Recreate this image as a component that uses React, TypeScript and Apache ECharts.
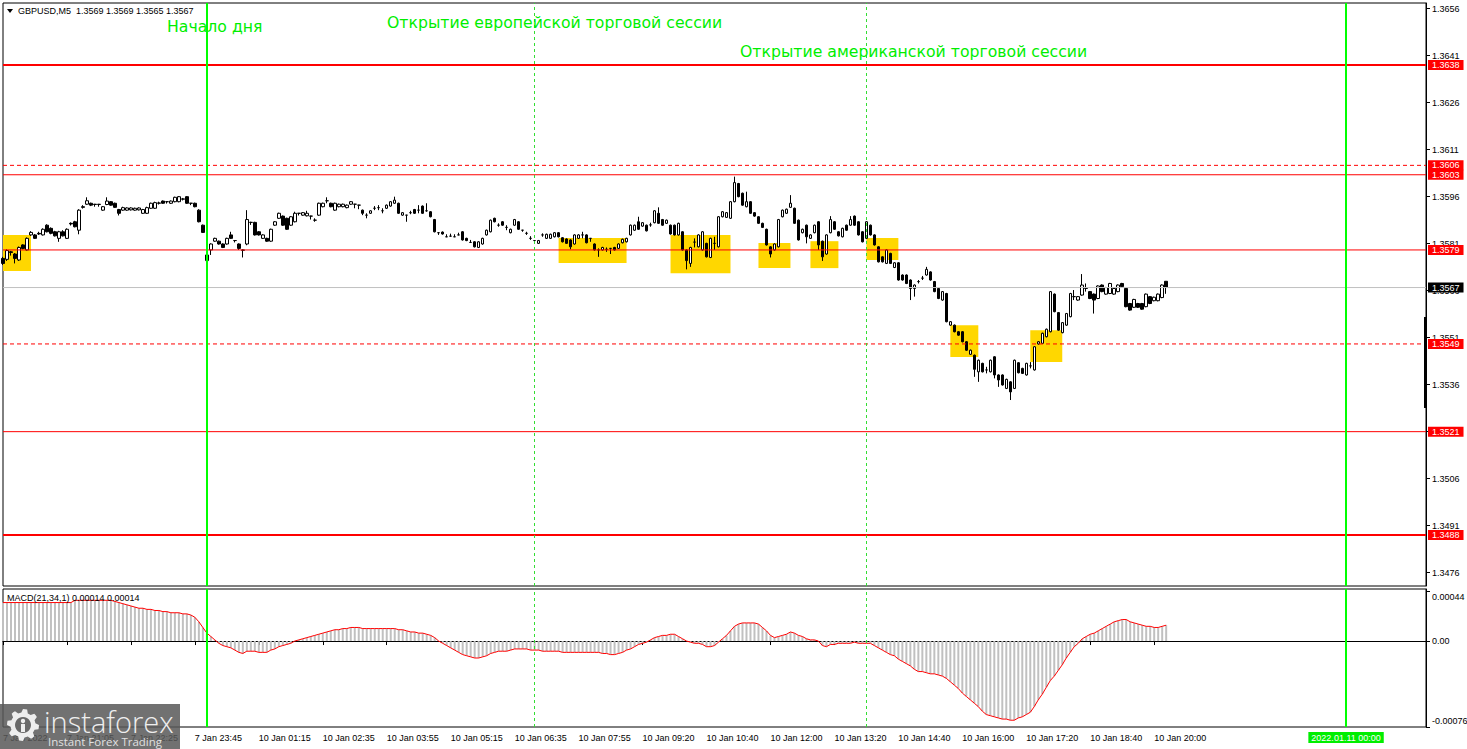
import React, { useEffect, useRef } from "react";
import * as echarts from "echarts";

// ---------- DATA ----------
// Candles [open, close, low, high], GBPUSD M5
const candlesFriday = [
  [1.35763,1.35747,1.35742,1.35768],[1.35760,1.35788,1.35755,1.35792],[1.35784,1.35782,1.35772,1.35787],[1.35777,1.35763,1.35747,1.35780],
  [1.35758,1.35798,1.35755,1.35801],[1.35806,1.35795,1.35792,1.35808],[1.35790,1.35827,1.35788,1.35830],[1.35838,1.35846,1.35835,1.35850],
  [1.35838,1.35827,1.35825,1.35841],[1.35843,1.35841,1.35838,1.35848],[1.35838,1.35856,1.35836,1.35859],[1.35869,1.35848,1.35846,1.35872],
  [1.35859,1.35843,1.35840,1.35862],[1.35848,1.35835,1.35833,1.35851],[1.35827,1.35848,1.35816,1.35851],[1.35848,1.35835,1.35833,1.35853],
  [1.35827,1.35856,1.35825,1.35859],[1.35875,1.35873,1.35868,1.35878],[1.35880,1.35864,1.35862,1.35883],[1.35853,1.35917,1.35840,1.35920],
  [1.35928,1.35926,1.35922,1.35933],[1.35936,1.35947,1.35934,1.35958],[1.35939,1.35933,1.35930,1.35941],[1.35936,1.35935,1.35928,1.35937],
  [1.35935,1.35936,1.35928,1.35937],[1.35917,1.35928,1.35915,1.35930],[1.35935,1.35946,1.35933,1.35958],[1.35944,1.35933,1.35931,1.35946],
  [1.35939,1.35926,1.35924,1.35941],[1.35919,1.35907,1.35900,1.35921],[1.35917,1.35925,1.35915,1.35928],[1.35917,1.35924,1.35915,1.35926],
  [1.35918,1.35924,1.35916,1.35926],[1.35917,1.35923,1.35915,1.35925],[1.35918,1.35924,1.35916,1.35926],[1.35907,1.35919,1.35905,1.35921],
  [1.35907,1.35925,1.35905,1.35928],[1.35923,1.35939,1.35921,1.35941],[1.35923,1.35941,1.35921,1.35944],[1.35939,1.35940,1.35935,1.35944],
  [1.35946,1.35939,1.35937,1.35948],[1.35944,1.35944,1.35938,1.35945],[1.35939,1.35946,1.35937,1.35948],[1.35944,1.35958,1.35942,1.35960],
  [1.35944,1.35960,1.35942,1.35962],[1.35952,1.35953,1.35948,1.35956],[1.35960,1.35939,1.35937,1.35962],[1.35939,1.35939,1.35933,1.35940],
  [1.35939,1.35928,1.35926,1.35941],[1.35917,1.35880,1.35878,1.35920],[1.35869,1.35846,1.35844,1.35871],
];
const candlesAsia = [
  [1.35756,1.35774,1.35745,1.35776],[1.35790,1.35809,1.35774,1.35811],[1.35818,1.35827,1.35816,1.35829],[1.35818,1.35809,1.35807,1.35820],
  [1.35809,1.35798,1.35796,1.35811],[1.35809,1.35827,1.35807,1.35829],[1.35838,1.35827,1.35825,1.35848],[1.35820,1.35820,1.35814,1.35821],
  [1.35809,1.35795,1.35790,1.35811],[1.35790,1.35789,1.35766,1.35792],[1.35809,1.35887,1.35805,1.35917],[1.35878,1.35878,1.35870,1.35880],
  [1.35878,1.35838,1.35836,1.35880],[1.35848,1.35838,1.35836,1.35850],[1.35827,1.35838,1.35825,1.35840],[1.35827,1.35818,1.35816,1.35829],
  [1.35818,1.35856,1.35816,1.35858],[1.35869,1.35880,1.35867,1.35882],[1.35891,1.35907,1.35889,1.35909],[1.35898,1.35869,1.35867,1.35900],
  [1.35891,1.35856,1.35854,1.35893],[1.35869,1.35896,1.35867,1.35898],[1.35880,1.35907,1.35878,1.35912],[1.35907,1.35907,1.35900,1.35908],
  [1.35901,1.35909,1.35899,1.35911],[1.35899,1.35907,1.35897,1.35915],[1.35898,1.35898,1.35887,1.35899],[1.35885,1.35885,1.35880,1.35891],
  [1.35901,1.35939,1.35899,1.35941],[1.35928,1.35939,1.35926,1.35941],[1.35947,1.35947,1.35939,1.35958],[1.35939,1.35928,1.35926,1.35941],
  [1.35917,1.35939,1.35915,1.35941],[1.35928,1.35936,1.35926,1.35938],[1.35928,1.35936,1.35926,1.35938],[1.35925,1.35933,1.35923,1.35935],
  [1.35936,1.35944,1.35934,1.35946],[1.35936,1.35936,1.35923,1.35937],[1.35933,1.35933,1.35920,1.35934],[1.35917,1.35907,1.35901,1.35919],
  [1.35901,1.35901,1.35891,1.35907],[1.35907,1.35915,1.35905,1.35917],[1.35923,1.35923,1.35917,1.35930],[1.35925,1.35925,1.35917,1.35933],
  [1.35915,1.35915,1.35907,1.35923],[1.35923,1.35933,1.35921,1.35935],[1.35930,1.35944,1.35928,1.35946],[1.35939,1.35949,1.35937,1.35960],
  [1.35939,1.35907,1.35905,1.35941],[1.35901,1.35909,1.35899,1.35911],[1.35901,1.35901,1.35880,1.35902],[1.35909,1.35909,1.35904,1.35915],
  [1.35919,1.35907,1.35905,1.35921],[1.35917,1.35917,1.35907,1.35933],[1.35930,1.35907,1.35905,1.35932],[1.35915,1.35915,1.35912,1.35939],
  [1.35912,1.35896,1.35894,1.35914],[1.35887,1.35848,1.35846,1.35889],[1.35845,1.35845,1.35838,1.35846],[1.35847,1.35841,1.35839,1.35849],
];
const candlesEurope = [
  [1.35832,1.35832,1.35831,1.35840],[1.35834,1.35834,1.35833,1.35842],[1.35832,1.35832,1.35831,1.35840],[1.35838,1.35838,1.35837,1.35845],
  [1.35848,1.35822,1.35820,1.35850],[1.35827,1.35820,1.35818,1.35829],[1.35814,1.35814,1.35813,1.35822],[1.35816,1.35800,1.35798,1.35818],
  [1.35798,1.35816,1.35796,1.35818],[1.35809,1.35827,1.35807,1.35829],[1.35838,1.35853,1.35836,1.35855],[1.35848,1.35885,1.35846,1.35887],
  [1.35891,1.35880,1.35878,1.35893],[1.35869,1.35869,1.35864,1.35875],[1.35880,1.35869,1.35867,1.35882],[1.35862,1.35862,1.35853,1.35869],
  [1.35845,1.35856,1.35843,1.35858],[1.35869,1.35887,1.35867,1.35889],[1.35880,1.35856,1.35854,1.35882],[1.35853,1.35853,1.35848,1.35854],
  [1.35843,1.35843,1.35838,1.35848],[1.35827,1.35827,1.35822,1.35834],[1.35820,1.35820,1.35812,1.35821],[1.35811,1.35820,1.35809,1.35822],
  [1.35838,1.35838,1.35832,1.35843],[1.35827,1.35840,1.35825,1.35842],[1.35827,1.35840,1.35825,1.35842],[1.35832,1.35845,1.35830,1.35847],
  [1.35845,1.35832,1.35830,1.35847],[1.35829,1.35816,1.35814,1.35831],[1.35825,1.35811,1.35809,1.35827],[1.35822,1.35800,1.35792,1.35824],
  [1.35809,1.35838,1.35807,1.35840],[1.35827,1.35838,1.35825,1.35840],[1.35838,1.35838,1.35827,1.35848],[1.35838,1.35813,1.35811,1.35840],
  [1.35827,1.35827,1.35816,1.35828],[1.35809,1.35790,1.35788,1.35811],[1.35790,1.35790,1.35768,1.35795],[1.35790,1.35798,1.35788,1.35800],
  [1.35792,1.35792,1.35784,1.35798],[1.35795,1.35795,1.35777,1.35796],[1.35798,1.35790,1.35788,1.35800],[1.35795,1.35809,1.35793,1.35811],
  [1.35813,1.35824,1.35811,1.35826],[1.35816,1.35827,1.35814,1.35829],[1.35838,1.35869,1.35836,1.35871],[1.35853,1.35869,1.35851,1.35871],
  [1.35880,1.35856,1.35854,1.35896],[1.35866,1.35877,1.35864,1.35879],[1.35869,1.35851,1.35849,1.35871],[1.35870,1.35870,1.35864,1.35877],
  [1.35877,1.35915,1.35875,1.35917],[1.35907,1.35875,1.35873,1.35926],[1.35887,1.35869,1.35867,1.35889],[1.35875,1.35885,1.35873,1.35887],
  [1.35869,1.35841,1.35839,1.35871],[1.35869,1.35838,1.35836,1.35871],[1.35838,1.35875,1.35836,1.35877],[1.35848,1.35790,1.35788,1.35850],
];
const candlesMidday = [
  [1.35790,1.35756,1.35728,1.35792],[1.35747,1.35798,1.35736,1.35800],[1.35815,1.35815,1.35798,1.35827],[1.35800,1.35838,1.35798,1.35840],
  [1.35790,1.35848,1.35788,1.35850],[1.35811,1.35768,1.35766,1.35813],[1.35766,1.35827,1.35764,1.35829],[1.35811,1.35811,1.35790,1.35832],
  [1.35800,1.35896,1.35798,1.35898],[1.35896,1.35912,1.35894,1.35914],[1.35894,1.35909,1.35892,1.35911],[1.35891,1.35944,1.35889,1.35946],
  [1.35944,1.36005,1.35942,1.36024],[1.36002,1.35960,1.35958,1.36004],[1.35971,1.35933,1.35931,1.35973],[1.35928,1.35944,1.35926,1.35976],
  [1.35944,1.35907,1.35905,1.35946],[1.35909,1.35898,1.35896,1.35911],[1.35896,1.35875,1.35873,1.35898],[1.35875,1.35862,1.35860,1.35877],
  [1.35856,1.35806,1.35804,1.35858],[1.35800,1.35777,1.35766,1.35802],[1.35790,1.35809,1.35788,1.35811],[1.35800,1.35887,1.35798,1.35889],
  [1.35896,1.35917,1.35894,1.35919],[1.35907,1.35920,1.35905,1.35922],[1.35926,1.35939,1.35924,1.35965],[1.35923,1.35875,1.35873,1.35925],
  [1.35885,1.35822,1.35820,1.35887],[1.35845,1.35856,1.35843,1.35858],[1.35869,1.35832,1.35811,1.35871],[1.35827,1.35838,1.35825,1.35840],
  [1.35845,1.35869,1.35843,1.35871],[1.35880,1.35806,1.35790,1.35882],[1.35818,1.35768,1.35755,1.35820],[1.35777,1.35838,1.35775,1.35840],
  [1.35845,1.35887,1.35843,1.35898],[1.35880,1.35856,1.35854,1.35882],[1.35848,1.35835,1.35833,1.35850],[1.35832,1.35859,1.35830,1.35861],
  [1.35869,1.35853,1.35851,1.35871],[1.35869,1.35887,1.35867,1.35898],[1.35898,1.35869,1.35867,1.35900],[1.35880,1.35838,1.35836,1.35882],
  [1.35848,1.35816,1.35814,1.35850],[1.35827,1.35880,1.35825,1.35882],[1.35869,1.35838,1.35836,1.35871],[1.35838,1.35806,1.35804,1.35840],
  [1.35800,1.35752,1.35750,1.35802],[1.35768,1.35752,1.35750,1.35770],[1.35747,1.35790,1.35745,1.35792],[1.35779,1.35747,1.35745,1.35781],
  [1.35734,1.35749,1.35732,1.35751],[1.35749,1.35694,1.35692,1.35751],[1.35710,1.35694,1.35692,1.35712],[1.35710,1.35683,1.35681,1.35712],
  [1.35694,1.35667,1.35630,1.35696],[1.35667,1.35678,1.35641,1.35680],[1.35689,1.35689,1.35683,1.35694],[1.35700,1.35700,1.35694,1.35707],
];
const candlesAmerica = [
  [1.35710,1.35728,1.35708,1.35736],[1.35720,1.35694,1.35692,1.35722],[1.35689,1.35657,1.35655,1.35691],[1.35667,1.35635,1.35633,1.35669],
  [1.35630,1.35657,1.35628,1.35659],[1.35651,1.35561,1.35559,1.35653],[1.35550,1.35561,1.35548,1.35563],[1.35550,1.35529,1.35527,1.35552],
  [1.35529,1.35518,1.35516,1.35531],[1.35529,1.35497,1.35495,1.35531],[1.35497,1.35470,1.35468,1.35499],[1.35457,1.35470,1.35455,1.35472],
  [1.35454,1.35409,1.35385,1.35456],[1.35401,1.35438,1.35369,1.35440],[1.35428,1.35401,1.35399,1.35430],[1.35407,1.35407,1.35396,1.35417],
  [1.35401,1.35438,1.35399,1.35440],[1.35449,1.35391,1.35380,1.35451],[1.35391,1.35375,1.35353,1.35393],[1.35391,1.35359,1.35357,1.35393],
  [1.35348,1.35377,1.35346,1.35379],[1.35369,1.35337,1.35311,1.35371],[1.35348,1.35438,1.35346,1.35440],[1.35430,1.35398,1.35396,1.35432],
  [1.35412,1.35396,1.35394,1.35414],[1.35391,1.35428,1.35389,1.35430],[1.35420,1.35420,1.35412,1.35432],[1.35407,1.35481,1.35405,1.35483],
  [1.35490,1.35497,1.35488,1.35499],[1.35492,1.35524,1.35490,1.35526],[1.35513,1.35537,1.35511,1.35539],[1.35529,1.35657,1.35527,1.35659],
  [1.35649,1.35593,1.35591,1.35651],[1.35590,1.35534,1.35532,1.35592],[1.35526,1.35558,1.35524,1.35560],[1.35550,1.35587,1.35548,1.35589],
  [1.35577,1.35651,1.35575,1.35653],[1.35641,1.35641,1.35630,1.35662],[1.35630,1.35641,1.35628,1.35643],[1.35646,1.35678,1.35644,1.35713],
  [1.35667,1.35667,1.35657,1.35683],[1.35657,1.35635,1.35633,1.35659],[1.35649,1.35630,1.35587,1.35651],[1.35635,1.35675,1.35633,1.35677],
  [1.35678,1.35657,1.35655,1.35680],[1.35649,1.35670,1.35647,1.35672],[1.35651,1.35683,1.35649,1.35685],[1.35649,1.35667,1.35647,1.35669],
  [1.35657,1.35678,1.35655,1.35680],[1.35683,1.35673,1.35671,1.35685],[1.35667,1.35609,1.35607,1.35669],[1.35619,1.35598,1.35596,1.35621],
  [1.35607,1.35632,1.35605,1.35634],[1.35619,1.35607,1.35605,1.35621],[1.35619,1.35601,1.35599,1.35621],[1.35609,1.35649,1.35607,1.35651],
  [1.35641,1.35619,1.35617,1.35643],[1.35628,1.35639,1.35626,1.35641],[1.35628,1.35649,1.35626,1.35651],[1.35638,1.35678,1.35636,1.35680],
  [1.3569,1.3567,1.3565,1.3569],
];

// MACD(21,34,1) histogram (main) values per bar
const macdMain = [
  34e-5,34e-5,34e-5,34e-5,34e-5,34e-5,34e-5,34e-5,34e-5,34e-5,
  34e-5,34e-5,34e-5,34e-5,34e-5,34e-5,34e-5,34e-5,36e-5,36e-5,
  36e-5,36e-5,36e-5,36e-5,36e-5,36e-5,36e-5,36e-5,35e-5,34e-5,
  33e-5,32e-5,31e-5,30e-5,29e-5,29e-5,28e-5,28e-5,27e-5,27e-5,
  26e-5,26e-5,25e-5,25e-5,25e-5,24e-5,24e-5,23e-5,21e-5,17e-5,
  12e-5,7e-5,4e-5,1e-5,-2e-5,-4e-5,-5e-5,-6e-5,-8e-5,-10e-5,
  -11e-5,-9e-5,-9e-5,-9e-5,-10e-5,-10e-5,-10e-5,-8e-5,-7e-5,-5e-5,
  -4e-5,-3e-5,-2e-5,0,1e-5,2e-5,3e-5,4e-5,5e-5,6e-5,
  7e-5,8e-5,9e-5,10e-5,10e-5,11e-5,11e-5,12e-5,12e-5,12e-5,
  11e-5,11e-5,11e-5,11e-5,11e-5,11e-5,11e-5,11e-5,11e-5,10e-5,
  10e-5,9e-5,8e-5,8e-5,7e-5,7e-5,6e-5,5e-5,3e-5,0,
  -2e-5,-4e-5,-6e-5,-8e-5,-10e-5,-12e-5,-13e-5,-14e-5,-15e-5,-15e-5,
  -14e-5,-13e-5,-11e-5,-10e-5,-9e-5,-9e-5,-9e-5,-8e-5,-7e-5,-7e-5,
  -7e-5,-7e-5,-8e-5,-8e-5,-8e-5,-9e-5,-9e-5,-9e-5,-9e-5,-9e-5,
  -10e-5,-10e-5,-10e-5,-10e-5,-10e-5,-10e-5,-10e-5,-10e-5,-10e-5,-10e-5,
  -11e-5,-11e-5,-12e-5,-12e-5,-11e-5,-10e-5,-8e-5,-7e-5,-5e-5,-3e-5,
  -2e-5,-1e-5,1e-5,3e-5,4e-5,5e-5,5e-5,6e-5,6e-5,4e-5,
  2e-5,0,-1e-5,-2e-5,-2e-5,-3e-5,-5e-5,-5e-5,-4e-5,-1e-5,
  2e-5,5e-5,9e-5,13e-5,15e-5,16e-5,16e-5,16e-5,16e-5,15e-5,
  12e-5,9e-5,5e-5,3e-5,4e-5,5e-5,6e-5,8e-5,7e-5,5e-5,
  4e-5,2e-5,1e-5,1e-5,0,-4e-5,-5e-5,-3e-5,-3e-5,-2e-5,
  -2e-5,-2e-5,-2e-5,-1e-5,-2e-5,-2e-5,-2e-5,-2e-5,-4e-5,-6e-5,
  -8e-5,-10e-5,-12e-5,-13e-5,-16e-5,-18e-5,-20e-5,-22e-5,-25e-5,-27e-5,
  -27e-5,-28e-5,-29e-5,-29e-5,-30e-5,-31e-5,-33e-5,-36e-5,-39e-5,-42e-5,
  -46e-5,-49e-5,-52e-5,-55e-5,-58e-5,-62e-5,-65e-5,-66e-5,-67e-5,-68e-5,
  -69e-5,-69e-5,-70e-5,-70e-5,-68e-5,-67e-5,-65e-5,-63e-5,-58e-5,-52e-5,
  -47e-5,-41e-5,-35e-5,-31e-5,-26e-5,-21e-5,-15e-5,-10e-5,-5e-5,-2e-5,
  2e-5,4e-5,6e-5,7e-5,9e-5,11e-5,13e-5,15e-5,17e-5,18e-5,
  19e-5,19e-5,17e-5,16e-5,15e-5,14e-5,13e-5,13e-5,12e-5,12e-5,
  13e-5,14e-5,
];

// Price axis labels and MACD axis labels
const priceTicks = [1.3656, 1.3641, 1.3626, 1.3611, 1.3596, 1.3581, 1.3566, 1.3551, 1.3536, 1.3521, 1.3506, 1.3491, 1.3476];
const macdTicks = [0.00044, 0, -0.00076];

// Horizontal levels
const solidLevels = [1.3638, 1.3603, 1.3579, 1.3521, 1.3488];
const thickLevels = [1.3638, 1.3488];
const dashedLevels = [1.3606, 1.3549];
const currentPrice = 1.3567;

// Time axis
const firstBar = "2022.01.07 19:45";
const fridayLastBar = "2022.01.07 23:55";
const mondayFirstBar = "2022.01.10 00:00";
const missingBars = ["2022.01.10 00:05", "2022.01.10 00:10", "2022.01.10 08:40"];
const slotCount = 357;
const labelEvery = 16;

// Vertical lines (times)
const dayStart = "2022.01.10 00:00";
const euOpen = "2022.01.10 07:00";
const usOpen = "2022.01.10 14:00";
const nextDay = "2022.01.11 00:00";

// Yellow boxes: bar index range and price range
const boxes = [
  { from: 0, to: 7, high: 1.35838, low: 1.35723 },
  { from: 139, to: 156, high: 1.35828, low: 1.35748 },
  { from: 167, to: 182, high: 1.35838, low: 1.35716 },
  { from: 189, to: 197, high: 1.35812, low: 1.35732 },
  { from: 202, to: 209, high: 1.35818, low: 1.35732 },
  { from: 216, to: 224, high: 1.35828, low: 1.35758 },
  { from: 237, to: 244, high: 1.35550, low: 1.35448 },
  { from: 257, to: 265, high: 1.35534, low: 1.35432 },
];

const annotations = [
  { text: "Начало дня", x: 167, y: 26 },
  { text: "Открытие европейской торговой сессии", x: 387, y: 22 },
  { text: "Открытие американской торговой сессии", x: 740, y: 51 },
];

// ---------- HELPERS ----------
const pad = (n: number) => (n < 10 ? "0" + n : "" + n);
const fmtTime = (t: number) => {
  const d = new Date(t);
  return `${d.getUTCFullYear()}.${pad(d.getUTCMonth() + 1)}.${pad(d.getUTCDate())} ${pad(d.getUTCHours())}:${pad(d.getUTCMinutes())}`;
};
const parseTime = (s: string) => {
  const [date, time] = s.split(" ");
  const [y, mo, d] = date.split(".").map(Number);
  const [h, mi] = time.split(":").map(Number);
  return Date.UTC(y, mo - 1, d, h, mi);
};
function buildSlots(): string[] {
  const out: string[] = [];
  let t = parseTime(firstBar);
  while (out.length < slotCount) {
    const s = fmtTime(t);
    if (!missingBars.includes(s)) out.push(s);
    t = s === fridayLastBar ? parseTime(mondayFirstBar) : t + 5 * 60000;
  }
  return out;
}
const MONTHS = ["Jan", "Feb", "Mar", "Apr", "May", "Jun", "Jul", "Aug", "Sep", "Oct", "Nov", "Dec"];

export default function App() {
  const ref = useRef<HTMLDivElement>(null);
  useEffect(() => {
    document.body.style.margin = "0";
    if (!ref.current) return;
    const chart = echarts.init(ref.current, null, { renderer: "svg" });
    const candles = [...candlesFriday, ...candlesAsia, ...candlesEurope, ...candlesMidday, ...candlesAmerica];
    const slots = buildSlots();
    const lastIdx = candles.length - 1;
    const lastSlot = slots.length - 1;
    const last = candles[lastIdx];
    const showLabel = (i: number) => i % labelEvery === 0 && i <= lastIdx;
    const FONT = "Liberation Sans";
    const ANN = "DejaVu Sans";
    const f4 = (v: number) => Number(v).toFixed(4);

    const levelSeries = (v: number, color: string, width: number, type: any, labelBg: string) => ({
      type: "line",
      xAxisIndex: 0,
      yAxisIndex: 0,
      data: [[0, v], [lastSlot, v]],
      symbol: "none",
      silent: true,
      z: 3,
      lineStyle: { color, width, type },
      endLabel: {
        show: true,
        formatter: () => f4(v),
        distance: 2,
        backgroundColor: labelBg,
        color: "#fff",
        fontFamily: FONT,
        fontSize: 9,
        lineHeight: 10,
        padding: [0, 4, 0, 4],
      },
    });

    const vLines = (withLabel: boolean): any[] => [
      { xAxis: dayStart, lineStyle: { color: "#00ff00", width: 2, type: "solid" }, label: { show: false } },
      { xAxis: euOpen, lineStyle: { color: "#33dd33", width: 1, type: [3, 3] }, label: { show: false } },
      { xAxis: usOpen, lineStyle: { color: "#33dd33", width: 1, type: [3, 3] }, label: { show: false } },
      {
        xAxis: nextDay,
        lineStyle: { color: "#00ff00", width: 2, type: "solid" },
        label: withLabel
          ? {
              show: true,
              position: "start",
              distance: 5,
              formatter: nextDay,
              backgroundColor: "#00ee00",
              color: "#fff",
              fontFamily: FONT,
              fontSize: 9,
              lineHeight: 11,
              padding: [0, 3, 0, 3],
            }
          : { show: false },
      },
    ];

    // gear polygon for logo
    const gear: number[][] = [];
    const gcx = 23, gcy = 725;
    for (let k = 0; k < 48; k++) {
      const a = (k / 48) * Math.PI * 2;
      const tooth = Math.floor(k / 3) % 2 === 0;
      const r = tooth ? 16 : 12.5;
      gear.push([gcx + r * Math.cos(a), gcy + r * Math.sin(a)]);
    }

    const textStyleBase = { fontFamily: FONT, fontSize: 9, fill: "#000", verticalAlign: "middle" };

    const option: any = {
      animation: false,
      backgroundColor: "#ffffff",
      grid: [
        { left: 3, right: 41, top: 3, height: 583, show: true, borderColor: "#000", borderWidth: 1, backgroundColor: "transparent", outerBoundsMode: "none", containLabel: false },
        { left: 3, right: 41, top: 589, height: 138, show: true, borderColor: "#000", borderWidth: 1, backgroundColor: "transparent", outerBoundsMode: "none", containLabel: false },
      ],
      xAxis: [
        {
          type: "category", gridIndex: 0, data: slots, boundaryGap: false,
          axisLine: { show: false }, axisTick: { show: false }, axisLabel: { show: false }, splitLine: { show: false },
        },
        {
          type: "category", gridIndex: 1, data: slots, boundaryGap: false,
          axisLine: { show: true, lineStyle: { color: "#000", width: 1 } },
          axisTick: { show: true, interval: (i: number) => showLabel(i), length: 4, lineStyle: { color: "#000" } },
          axisLabel: {
            interval: (i: number) => showLabel(i),
            align: "left",
            margin: 6,
            fontFamily: FONT,
            fontSize: 9,
            color: "#000",
            formatter: (v: string, i: number) => {
              const t = new Date(parseTime(v));
              if (i === 0) return `${t.getUTCDate()} ${MONTHS[t.getUTCMonth()]} ${t.getUTCFullYear()}`;
              return `${t.getUTCDate()} ${MONTHS[t.getUTCMonth()]} ${pad(t.getUTCHours())}:${pad(t.getUTCMinutes())}`;
            },
          },
          splitLine: { show: false },
        },
      ],
      yAxis: [
        {
          type: "value", gridIndex: 0, position: "right",
          min: 1.347174, max: 1.365782,
          splitLine: { show: false },
          axisLine: { show: true, lineStyle: { color: "#000" } },
          axisTick: { show: true, customValues: priceTicks, length: 4, lineStyle: { color: "#000" } },
          axisLabel: { customValues: priceTicks, formatter: (v: number) => f4(v), margin: 6, fontFamily: FONT, fontSize: 9, color: "#000" },
        },
        {
          type: "value", gridIndex: 1, position: "right",
          min: -0.00076, max: 0.00046,
          splitLine: { show: false },
          axisLine: { show: true, lineStyle: { color: "#000" } },
          axisTick: { show: true, customValues: macdTicks, length: 4, lineStyle: { color: "#000" } },
          axisLabel: {
            customValues: macdTicks, margin: 6, fontFamily: FONT, fontSize: 9, color: "#000",
            formatter: (v: number) => {
              if (v > 0) return `{top|${v.toFixed(5)}}`;
              if (v < 0) return `{bot|${v.toFixed(5)}}`;
              return "0.00";
            },
            rich: {
              top: { fontFamily: FONT, fontSize: 9, color: "#000", padding: [12, 0, 0, 0] },
              bot: { fontFamily: FONT, fontSize: 9, color: "#000", padding: [0, 0, 12, 0] },
            },
          },
        },
      ],
      series: [
        {
          name: "boxes", type: "line", xAxisIndex: 0, yAxisIndex: 0, data: [], z: 1, silent: true,
          markArea: {
            silent: true,
            itemStyle: { color: "#ffd700", opacity: 1 },
            label: { show: false },
            data: boxes.map((b) => [{ xAxis: b.from, yAxis: b.high }, { xAxis: b.to, yAxis: b.low }]),
          },
        },
        {
          name: "GBPUSD", type: "candlestick", xAxisIndex: 0, yAxisIndex: 0, data: candles, z: 2,
          barWidth: 3,
          itemStyle: { color: "#ffffff", color0: "#000000", borderColor: "#000000", borderColor0: "#000000", borderColorDoji: "#000000", borderWidth: 1 },
        },
        levelSeries(currentPrice, "#c0c0c0", 1, "solid", "#000000"),
        ...solidLevels.map((v) => levelSeries(v, "#ff0000", thickLevels.includes(v) ? 2 : 1, "solid", "#ff0000")),
        ...dashedLevels.map((v) => levelSeries(v, "#ff0000", 1, [4, 3], "#ff0000")),
        {
          name: "vmain", type: "line", xAxisIndex: 0, yAxisIndex: 0, data: [], z: 4, silent: true,
          markLine: { silent: true, symbol: ["none", "none"], animation: false, data: vLines(false) },
        },
        {
          name: "MACD", type: "bar", xAxisIndex: 1, yAxisIndex: 1, data: macdMain, barWidth: 2, z: 2,
          itemStyle: { color: "#c0c0c0" },
        },
        {
          name: "Signal", type: "line", xAxisIndex: 1, yAxisIndex: 1, data: macdMain, z: 3,
          symbol: "none", lineStyle: { color: "#ff0000", width: 1 },
        },
        {
          name: "vlines", type: "line", xAxisIndex: 1, yAxisIndex: 1, data: [], z: 4, silent: true,
          markLine: { silent: true, symbol: ["none", "none"], animation: false, data: vLines(true) },
        },
      ],
      graphic: [
        { type: "polygon", shape: { points: [[7, 9], [13, 9], [10, 13]] }, style: { fill: "#000" }, z: 10 },
        {
          type: "text", x: 18, y: 11, z: 10,
          style: { ...textStyleBase, text: `GBPUSD,M5  ${f4(last[0])} ${f4(last[3])} ${f4(last[2])} ${f4(last[1])}` },
        },
        {
          type: "text", x: 7, y: 598, z: 10,
          style: { ...textStyleBase, text: `MACD(21,34,1) ${macdMain[lastIdx].toFixed(5)} ${macdMain[lastIdx].toFixed(5)}` },
        },
        ...annotations.map((a) => ({
          type: "text", x: a.x, y: a.y, z: 10,
          style: { text: a.text, fontFamily: ANN, fontSize: 15.7, fill: "#00ee00", verticalAlign: "middle" },
        })),
        { type: "rect", shape: { x: 1424, y: 317, width: 3, height: 91 }, style: { fill: "#000" }, z: 10 },
        // logo
        { type: "rect", shape: { x: 0, y: 704, width: 180, height: 45 }, style: { fill: "rgba(88,88,88,0.85)" }, z: 20 },
        { type: "polygon", shape: { points: gear }, style: { fill: "#eeeeee" }, z: 21 },
        { type: "circle", shape: { cx: gcx, cy: gcy, r: 8 }, style: { fill: "#6a6a6a" }, z: 22 },
        { type: "circle", shape: { cx: gcx, cy: gcy - 4, r: 2.2 }, style: { fill: "#eeeeee" }, z: 23 },
        { type: "rect", shape: { x: gcx - 2, y: gcy - 1, width: 4, height: 8 }, style: { fill: "#eeeeee" }, z: 23 },
        {
          type: "text", x: 44, y: 721, z: 21,
          style: { text: "instaforex", fontFamily: "Open Sans", fontWeight: 300, fontSize: 29, fill: "#eeeeee", verticalAlign: "middle" },
        },
        {
          type: "text", x: 48, y: 741, z: 21,
          style: { text: "Instant Forex Trading", fontFamily: "Open Sans", fontSize: 11.5, fill: "#e0e0e0", verticalAlign: "middle" },
        },
      ],
    };
    chart.setOption(option);
    return () => chart.dispose();
  }, []);
  return <div ref={ref} style={{ width: 1467, height: 749 }} />;
}
